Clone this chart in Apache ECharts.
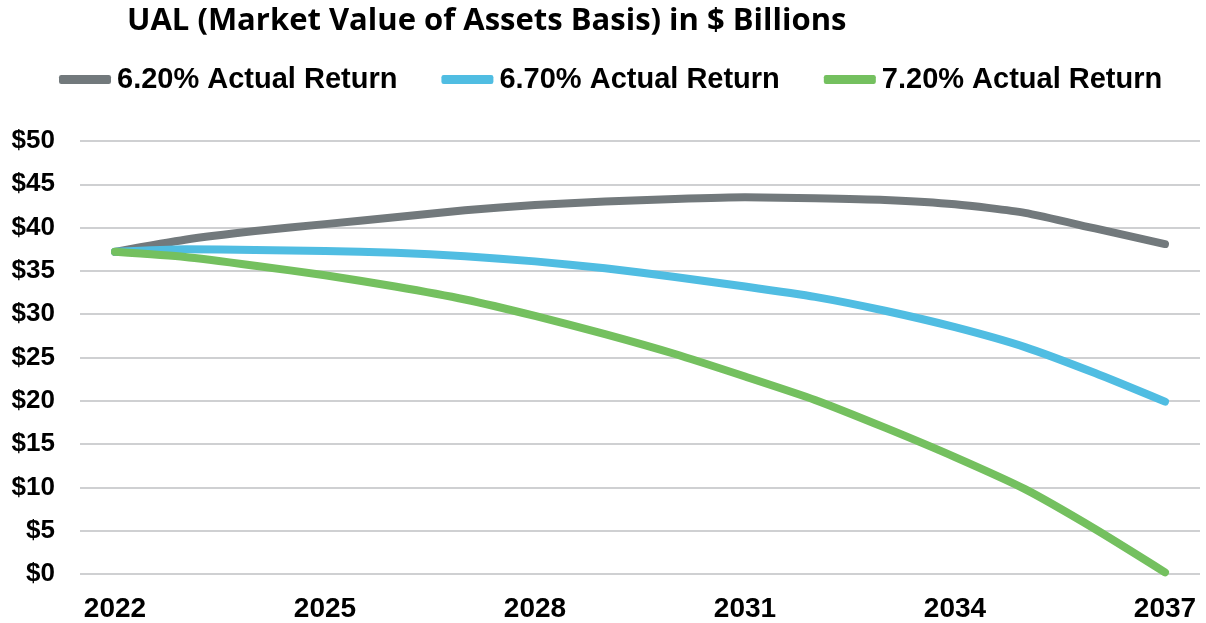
<!DOCTYPE html>
<html>
<head>
<meta charset="utf-8">
<script src="https://cdn.jsdelivr.net/npm/echarts@6/dist/echarts.min.js"></script>
<style>
  html, body { margin: 0; padding: 0; background: #fff; }
  #chart { width: 1206px; height: 623px; }
</style>
</head>
<body>
<div id="chart"></div>
<script>
const years = ['2022', '2023', '2024', '2025', '2026', '2027', '2028', '2029',
  '2030', '2031', '2032', '2033', '2034', '2035', '2036', '2037']

const seriesNames = ['6.20% Actual Return', '6.70% Actual Return', '7.20% Actual Return']

// UAL in $ billions
const ret620 = [37.2, 38.6, 39.6, 40.4, 41.2, 42.0, 42.6, 43.0, 43.3, 43.5, 43.4, 43.2, 42.7, 41.7, 39.9, 38.1]
const ret670 = [37.2, 37.5, 37.4, 37.3, 37.1, 36.7, 36.1, 35.3, 34.3, 33.2, 32.0, 30.4, 28.5, 26.2, 23.2, 19.9]
const ret720 = [37.2, 36.6, 35.6, 34.5, 33.2, 31.7, 29.8, 27.7, 25.4, 22.8, 20.1, 16.9, 13.5, 9.8, 5.2, 0.2]

const colors = ['#72797c', '#50bde2', '#74c05f']

const chart = echarts.init(document.getElementById('chart'))

const makeLine = (name, data, color) => ({
  name: name,
  type: 'line',
  data: data,
  smooth: 0.2,
  showSymbol: false,
  symbol: 'none',
  lineStyle: { width: 8, color: color, cap: 'round', join: 'round' },
  itemStyle: { color: color }
})

const option = {
  animation: false,
  color: colors,
  title: {
    text: 'UAL (Market Value of Assets Basis) in $ Billions',
    left: 122,
    top: 1,
    textStyle: {
      fontFamily: 'Open Sans',
      fontWeight: 'bold',
      fontSize: 31,
      color: '#000'
    }
  },
  legend: {
    top: 60,
    left: 54,
    itemWidth: 52,
    itemHeight: 9,
    itemGap: 44,
    icon: 'roundRect',
    textStyle: {
      fontFamily: 'Liberation Sans',
      fontWeight: 'bold',
      fontSize: 29,
      color: '#000',
      padding: [0, 0, 0, 1]
    },
    data: seriesNames
  },
  grid: {
    left: 80,
    right: 6,
    top: 141,
    bottom: 49,
    containLabel: false
  },
  xAxis: {
    type: 'category',
    data: years,
    boundaryGap: true,
    axisLine: { show: false },
    axisTick: { show: false },
    axisLabel: {
      interval: 2,
      margin: 21,
      fontFamily: 'Liberation Sans',
      fontWeight: 'bold',
      fontSize: 28,
      color: '#000'
    }
  },
  yAxis: {
    type: 'value',
    min: 0,
    max: 50,
    interval: 5,
    axisLine: { show: false },
    axisTick: { show: false },
    splitLine: { lineStyle: { color: '#bfc1c3', width: 1.5 } },
    axisLabel: {
      margin: 25,
      fontFamily: 'Liberation Sans',
      fontWeight: 'bold',
      fontSize: 26,
      color: '#000',
      formatter: v => '$' + v
    }
  },
  series: [
    makeLine(seriesNames[0], ret620, colors[0]),
    makeLine(seriesNames[1], ret670, colors[1]),
    makeLine(seriesNames[2], ret720, colors[2])
  ]
}

chart.setOption(option)
</script>
</body>
</html>
